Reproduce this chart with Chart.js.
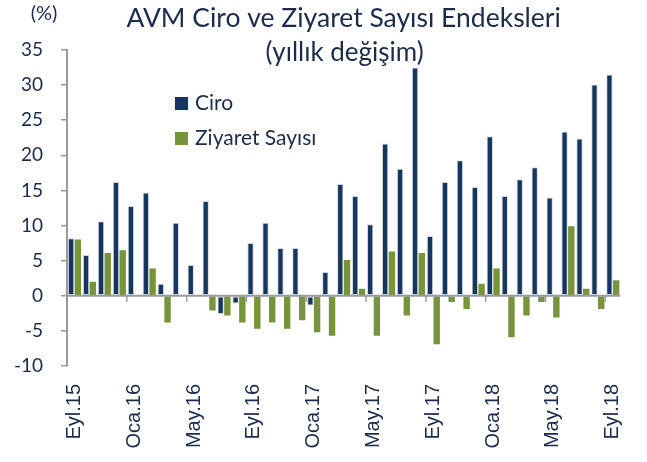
<!DOCTYPE html>
<html>
<head>
<meta charset="utf-8">
<script src="https://cdn.jsdelivr.net/npm/chart.js@4/dist/chart.umd.min.js"></script>
<style>
  html, body { margin: 0; padding: 0; background: #fff; }
  canvas { display: block; }
</style>
</head>
<body>
<canvas id="avmChart" width="647" height="462"></canvas>
<script>
// monthly, Eylül 2015 .. Eylül 2018
const months = [
  'Eyl.15', 'Eki.15', 'Kas.15', 'Ara.15',
  'Oca.16', 'Şub.16', 'Mar.16', 'Nis.16', 'May.16', 'Haz.16', 'Tem.16', 'Ağu.16',
  'Eyl.16', 'Eki.16', 'Kas.16', 'Ara.16',
  'Oca.17', 'Şub.17', 'Mar.17', 'Nis.17', 'May.17', 'Haz.17', 'Tem.17', 'Ağu.17',
  'Eyl.17', 'Eki.17', 'Kas.17', 'Ara.17',
  'Oca.18', 'Şub.18', 'Mar.18', 'Nis.18', 'May.18', 'Haz.18', 'Tem.18', 'Ağu.18',
  'Eyl.18'
];

const ciro = [
  8.2, 5.8, 10.6, 16.2,
  12.8, 14.7, 1.7, 10.4, 4.4, 13.5, -2.6, -1.1,
  7.5, 10.4, 6.8, 6.8,
  -1.4, 3.4, 15.9, 14.2, 10.2, 21.7, 18.1, 32.5,
  8.5, 16.2, 19.3, 15.5,
  22.7, 14.2, 16.6, 18.3, 14.0, 23.4, 22.4, 30.1,
  31.5
];

const ziyaret = [
  8.0, 2.0, 6.1, 6.5,
  0, 3.9, -3.8, 0, 0, -2.1, -2.8, -3.8,
  -4.7, -3.8, -4.7, -3.5,
  -5.2, -5.7, 5.1, 1.0, -5.7, 6.3, -2.8, 6.1,
  -6.9, -0.9, -1.9, 1.7,
  3.9, -5.9, -2.8, -0.9, -3.1, 9.9, 1.0, -1.9,
  2.2
];

const yTicks = { min: -10, max: 35, step: 5 };
const labelEvery = 4;

const NAVY = '#17365d';
const GREEN = '#77933c';
const TEXT = '#1c2b4a';
const AXIS = '#9a9a9a';
const UI_FONT = 'Lato, "Open Sans", sans-serif';

// title, unit and the in-plot legend
const headerPlugin = {
  id: 'header',
  afterDraw(chart) {
    const { ctx, chartArea } = chart;
    const cx = (chartArea.left + chartArea.right) / 2;
    ctx.save();
    ctx.fillStyle = TEXT;
    ctx.textBaseline = 'alphabetic';
    ctx.textAlign = 'center';
    ctx.font = '26.5px ' + UI_FONT;
    ctx.fillText('AVM Ciro ve Ziyaret Sayısı Endeksleri', cx, 27);
    ctx.font = '26px ' + UI_FONT;
    ctx.fillText('(yıllık değişim)', cx + 1, 61);
    ctx.font = '20px ' + UI_FONT;
    ctx.fillText('(%)', 44, 20);

    ctx.textAlign = 'left';
    ctx.font = '21px ' + UI_FONT;
    chart.data.datasets.forEach((ds, i) => {
      const y = 97 + i * 35;
      ctx.fillStyle = ds.backgroundColor;
      ctx.fillRect(175, y, 13, 13);
      ctx.fillStyle = TEXT;
      ctx.fillText(ds.label, 195, y + 13);
    });
    ctx.restore();
  }
};

// zero line with a tick every few months
const zeroLinePlugin = {
  id: 'zeroLine',
  afterDatasetsDraw(chart) {
    const { ctx, chartArea, scales } = chart;
    const y0 = scales.y.getPixelForValue(0);
    ctx.save();
    ctx.strokeStyle = AXIS;
    ctx.lineWidth = 2;
    ctx.beginPath();
    ctx.moveTo(chartArea.left, y0);
    ctx.lineTo(chartArea.right, y0);
    ctx.stroke();
    ctx.lineWidth = 1.5;
    for (let k = labelEvery; k < months.length; k += labelEvery) {
      const x = (scales.x.getPixelForValue(k - 1) + scales.x.getPixelForValue(k)) / 2;
      ctx.beginPath();
      ctx.moveTo(x, y0);
      ctx.lineTo(x, y0 + 6);
      ctx.stroke();
    }
    ctx.restore();
  }
};

new Chart(document.getElementById('avmChart'), {
  type: 'bar',
  data: {
    labels: months,
    datasets: [
      {
        label: 'Ciro',
        data: ciro,
        backgroundColor: NAVY,
        borderColor: 'rgba(205, 212, 224, 0.9)',
        borderWidth: 1,
        borderSkipped: false,
        barPercentage: 0.95,
        categoryPercentage: 0.9
      },
      {
        label: 'Ziyaret Sayısı',
        data: ziyaret,
        backgroundColor: GREEN,
        borderWidth: 0,
        barPercentage: 0.95,
        categoryPercentage: 0.9
      }
    ]
  },
  options: {
    responsive: false,
    animation: false,
    layout: { padding: { top: 50, right: 15, left: 0, bottom: 0 } },
    plugins: {
      legend: { display: false },
      tooltip: { enabled: false }
    },
    scales: {
      x: {
        grid: { display: false },
        border: { display: false },
        afterFit(scale) { scale.height = 96; },
        ticks: {
          autoSkip: false,
          maxRotation: 90,
          minRotation: 90,
          padding: 10,
          color: TEXT,
          font: { family: '"Liberation Sans", Arial, sans-serif', size: 20 },
          callback(value, index) {
            return index % labelEvery === 0 ? months[index] : '';
          }
        }
      },
      y: {
        min: yTicks.min,
        max: yTicks.max,
        afterFit(scale) { scale.width = 67; },
        border: { color: AXIS, width: 2 },
        grid: {
          display: true,
          drawOnChartArea: false,
          drawTicks: true,
          tickLength: 6,
          color: AXIS,
          lineWidth: 1.5
        },
        ticks: {
          stepSize: yTicks.step,
          padding: 18,
          color: TEXT,
          font: { family: UI_FONT, size: 19 }
        }
      }
    }
  },
  plugins: [headerPlugin, zeroLinePlugin]
});
</script>
</body>
</html>
